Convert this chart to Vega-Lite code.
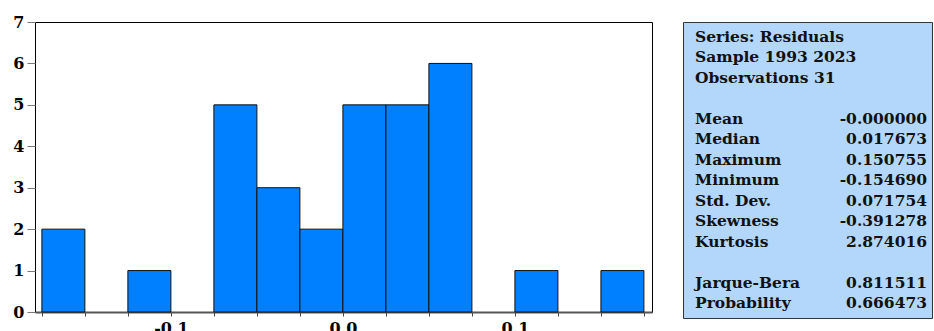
{
  "$schema": "https://vega.github.io/schema/vega-lite/v6.json",
  "autosize": {"type": "pad"},
  "padding": {"left": 12, "top": 13, "right": 0, "bottom": 0},
  "background": "white",
  "spacing": 29,
  "config": {"font": "DejaVu Serif"},
  "hconcat": [
    {
      "width": 617,
      "height": 290,
      "view": {"stroke": "black", "strokeWidth": 1},
      "data": {
        "values": [
          {"bin_start": -0.175, "bin_end": -0.15, "count": 2},
          {"bin_start": -0.125, "bin_end": -0.1, "count": 1},
          {"bin_start": -0.075, "bin_end": -0.05, "count": 5},
          {"bin_start": -0.05, "bin_end": -0.025, "count": 3},
          {"bin_start": -0.025, "bin_end": 0.0, "count": 2},
          {"bin_start": 0.0, "bin_end": 0.025, "count": 5},
          {"bin_start": 0.025, "bin_end": 0.05, "count": 5},
          {"bin_start": 0.05, "bin_end": 0.075, "count": 6},
          {"bin_start": 0.1, "bin_end": 0.125, "count": 1},
          {"bin_start": 0.15, "bin_end": 0.175, "count": 1}
        ]
      },
      "mark": {"type": "rect", "fill": "#0080ff", "stroke": "#111111", "strokeWidth": 1},
      "encoding": {
        "x": {
          "field": "bin_start",
          "type": "quantitative",
          "scale": {"domain": [-0.179, 0.1797], "nice": false, "zero": false},
          "axis": {
            "values": [-0.175, -0.15, -0.125, -0.1, -0.075, -0.05, -0.025, 0, 0.025, 0.05, 0.075, 0.1, 0.125, 0.15, 0.175],
            "labelExpr": "abs(abs(datum.value) - 0.1) < 1e-9 || abs(datum.value) < 1e-9 ? replace(format(datum.value, '.1f'), '\u2212', '-') : ''",
            "title": null,
            "grid": false,
            "domain": true,
            "domainColor": "#555555",
            "domainWidth": 2,
            "tickColor": "#444444",
            "tickSize": 4,
            "labelPadding": 4,
            "labelFontSize": 16,
            "labelFontWeight": "bold",
            "labelColor": "black",
            "labelFlush": false
          }
        },
        "x2": {"field": "bin_end"},
        "y": {
          "field": "count",
          "type": "quantitative",
          "scale": {"domain": [0, 7], "nice": false},
          "axis": {
            "values": [0, 1, 2, 3, 4, 5, 6, 7],
            "title": null,
            "grid": false,
            "domain": false,
            "tickColor": "#777777",
            "tickSize": 8,
            "labelPadding": 3,
            "labelFontSize": 16,
            "labelFontWeight": "bold",
            "labelColor": "black"
          }
        },
        "y2": {"datum": 0}
      }
    },
    {
      "width": 249,
      "height": 296,
      "view": {"fill": "#b3d7fa", "stroke": "#333333", "strokeWidth": 1},
      "data": {
        "values": [
          {"line": 1, "label": "Series: Residuals", "value": ""},
          {"line": 2, "label": "Sample 1993 2023", "value": ""},
          {"line": 3, "label": "Observations 31", "value": ""},
          {"line": 5, "label": "Mean", "value": "-0.000000"},
          {"line": 6, "label": "Median", "value": "0.017673"},
          {"line": 7, "label": "Maximum", "value": "0.150755"},
          {"line": 8, "label": "Minimum", "value": "-0.154690"},
          {"line": 9, "label": "Std. Dev.", "value": "0.071754"},
          {"line": 10, "label": "Skewness", "value": "-0.391278"},
          {"line": 11, "label": "Kurtosis", "value": "2.874016"},
          {"line": 13, "label": "Jarque-Bera", "value": "0.811511"},
          {"line": 14, "label": "Probability", "value": "0.666473"}
        ]
      },
      "encoding": {
        "y": {
          "field": "line",
          "type": "quantitative",
          "scale": {"domain": [1, 14], "range": [14.7, 281.3], "nice": false, "zero": false},
          "axis": null
        }
      },
      "layer": [
        {
          "mark": {"type": "text", "align": "left", "baseline": "middle", "fontSize": 15.5, "fontWeight": "bold", "color": "#111111"},
          "encoding": {
            "x": {"datum": 0, "type": "quantitative", "scale": {"domain": [0, 1], "range": [12, 244], "nice": false, "zero": false}, "axis": null},
            "text": {"field": "label"}
          }
        },
        {
          "mark": {"type": "text", "align": "right", "baseline": "middle", "fontSize": 15.5, "fontWeight": "bold", "color": "#111111"},
          "encoding": {
            "x": {"datum": 1, "type": "quantitative", "scale": {"domain": [0, 1], "range": [12, 244], "nice": false, "zero": false}, "axis": null},
            "text": {"field": "value"}
          }
        }
      ]
    }
  ]
}
